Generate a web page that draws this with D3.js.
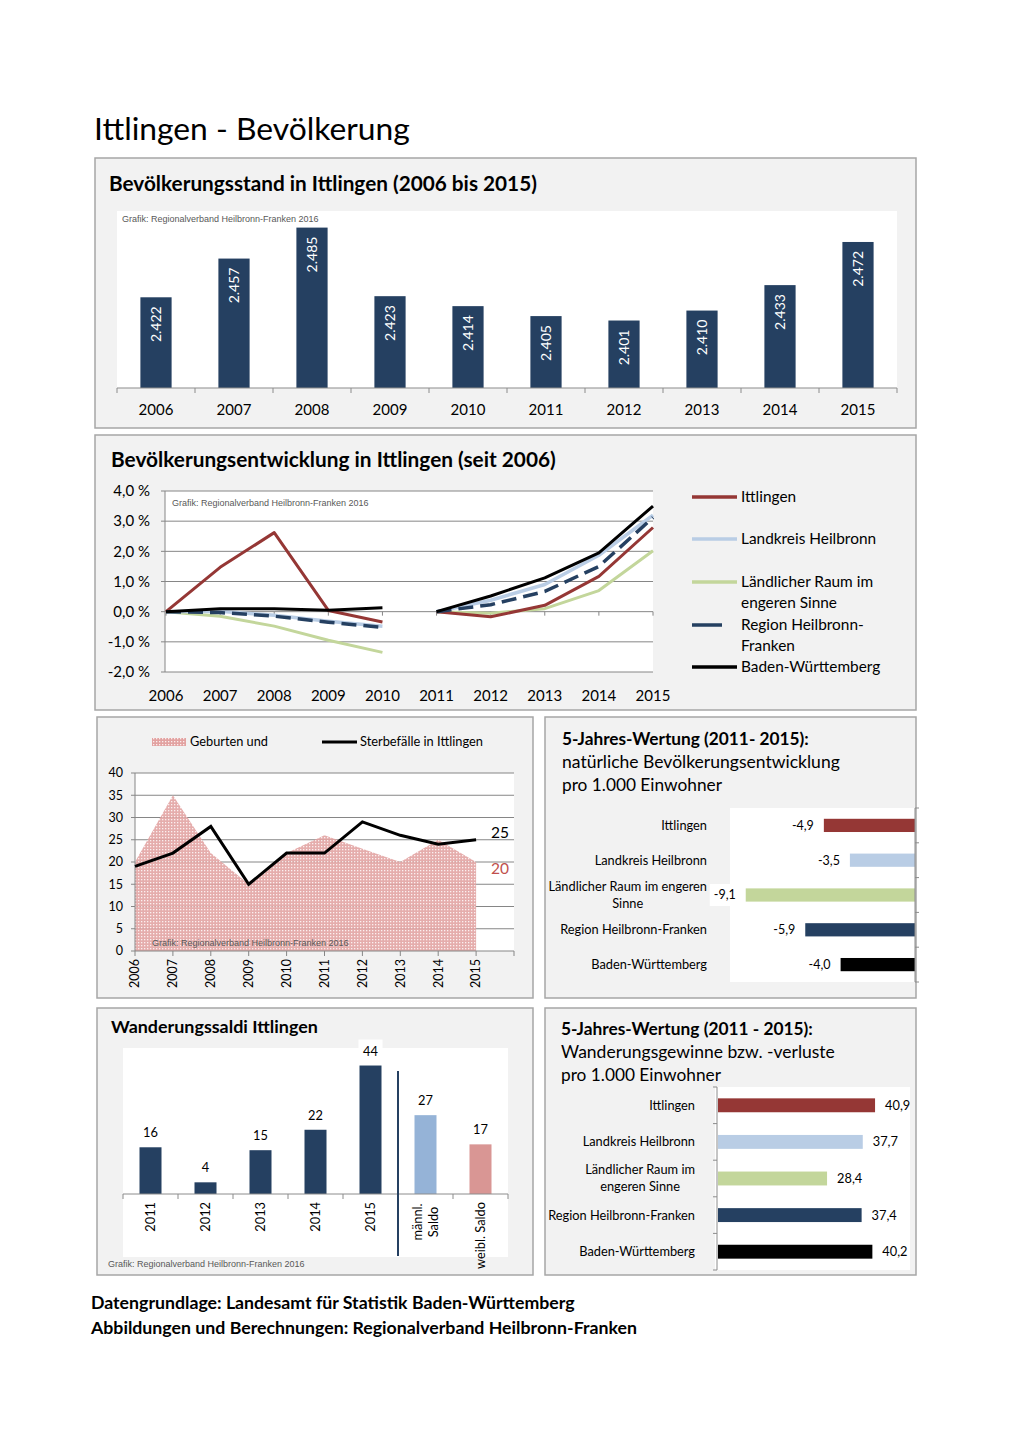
<!DOCTYPE html>
<html><head><meta charset="utf-8">
<script src="https://cdn.jsdelivr.net/npm/d3@7"></script>
<style>body{margin:0;background:#fff}</style>
</head><body>
<svg id="c" width="1020" height="1443"></svg>
<script>
// ---------- DATA ----------
const years = [2006,2007,2008,2009,2010,2011,2012,2013,2014,2015];
const popStand = [2422,2457,2485,2423,2414,2405,2401,2410,2433,2472];

const devNames = ["Ittlingen","Landkreis Heilbronn","Ländlicher Raum im engeren Sinne","Region Heilbronn-Franken","Baden-Württemberg"];
const devLegendLines = [["Ittlingen"],["Landkreis Heilbronn"],["Ländlicher Raum im","engeren Sinne"],["Region Heilbronn-","Franken"],["Baden-Württemberg"]];
const devIttlingen = [0,1.47,2.62,0.04,-0.34, 0,-0.17,0.21,1.17,2.79];
const devLandkreis = [0,0.01,-0.12,-0.32,-0.48, 0,0.38,0.90,1.87,3.20];
const devLaendlich = [0,-0.15,-0.48,-0.95,-1.35, 0,-0.05,0.10,0.70,2.02];
const devRegion    = [0,-0.03,-0.15,-0.35,-0.52, 0,0.23,0.67,1.50,3.12];
const devBW        = [0,0.10,0.10,0.05,0.13, 0,0.52,1.12,1.95,3.50];
const devTicks = [-2,-1,0,1,2,3,4];

const births = [20,35,22,15,22,26,23,20,25,20];
const deaths = [19,22,28,15,22,22,29,26,24,25];
const bdTicks = [0,5,10,15,20,25,30,35,40];

const regions = ["Ittlingen","Landkreis Heilbronn","Ländlicher Raum im engeren Sinne","Region Heilbronn-Franken","Baden-Württemberg"];
const natLabelLines = [["Ittlingen"],["Landkreis Heilbronn"],["Ländlicher Raum im engeren","Sinne"],["Region Heilbronn-Franken"],["Baden-Württemberg"]];
const natural5 = [-4.9,-3.5,-9.1,-5.9,-4.0];

const saldoCats = ["2011","2012","2013","2014","2015","männl. Saldo","weibl. Saldo"];
const saldoLabelLines = [["2011"],["2012"],["2013"],["2014"],["2015"],["männl.","Saldo"],["weibl. Saldo"]];
const saldoValues = [16,4,15,22,44,27,17];

const migLabelLines = [["Ittlingen"],["Landkreis Heilbronn"],["Ländlicher Raum im","engeren Sinne"],["Region Heilbronn-Franken"],["Baden-Württemberg"]];
const migration5 = [40.9,37.7,28.4,37.4,40.2];

// ---------- STYLE ----------
const FONT = "Lato, 'Open Sans', sans-serif";
const ARIAL = "'Liberation Sans', Arial, sans-serif";
const C = {navy:"#254061", red:"#953735", lblue:"#b9cde5", green:"#c3d69b", black:"#000",
           male:"#95b3d7", female:"#d99694", grid:"#868686", axis:"#8c8c8c", panel:"#f2f2f2", border:"#a6a6a6"};
const regionColors = [C.red, C.lblue, C.green, C.navy, C.black];

const de = d3.formatLocale({decimal:",", thousands:".", grouping:[3], currency:["","€"], minus:"-"});
const fmtInt = de.format(",");
const fmt1 = de.format(".1f");

const svg = d3.select("#c");
const defs = svg.append("defs");

function panel(x,y,w,h){
  svg.append("rect").attr("x",x).attr("y",y).attr("width",w).attr("height",h)
    .attr("fill",C.panel).attr("stroke",C.border).attr("stroke-width",1.5);
}
function text(g,x,y,s,size,o={}){
  const t = g.append("text").attr("x",x).attr("y",y).text(s)
    .attr("font-family",o.family||FONT).attr("font-size",size)
    .attr("font-weight",o.weight||"normal").attr("fill",o.fill||"#000")
    .attr("text-anchor",o.anchor||"start");
  if (o.fit) { // scale font size so the text spans the given width
    const w = t.node().getComputedTextLength();
    t.attr("font-size", size * o.fit / w);
  }
  return t;
}
function whiteRect(x0,y0,x1,y1){
  svg.append("rect").attr("x",x0).attr("y",y0).attr("width",x1-x0).attr("height",y1-y0).attr("fill","#fff");
}
function note(x,y){
  text(svg,x,y,"Grafik: Regionalverband Heilbronn-Franken 2016",9,{family:ARIAL,fill:"#595959",fit:197});
}

// ---------- MAIN TITLE ----------
text(svg,94,140,"Ittlingen - Bevölkerung",30,{fit:316});

// ---------- PANEL 1: Bevölkerungsstand ----------
panel(95,158,821,270);
text(svg,109,191,"Bevölkerungsstand in Ittlingen (2006 bis 2015)",20,{weight:"bold",fit:428});
whiteRect(117,211,897,388);
note(122,222);
{
  const x = d3.scaleBand().domain(years).range([117,897]).paddingInner(0.6).paddingOuter(0.3);
  const y = d3.scaleLinear().domain([2340,2500]).range([388,211]);
  const g = svg.append("g");
  g.selectAll("rect.bar").data(popStand).join("rect")
    .attr("x",(d,i)=>x(years[i])).attr("width",x.bandwidth())
    .attr("y",d=>y(d)).attr("height",d=>y(2340)-y(d)).attr("fill",C.navy);
  g.selectAll("text.val").data(popStand).join("text")
    .attr("transform",(d,i)=>`translate(${x(years[i])+x.bandwidth()/2},${y(d)+9}) rotate(-90)`)
    .attr("dy","0.35em").attr("text-anchor","end").attr("fill","#fff")
    .attr("font-family",FONT).attr("font-size",14).text(d=>fmtInt(d));
  const step = x.step();
  const bounds = years.map(yr=>x(yr)+x.bandwidth()/2-step/2).concat([x(years[9])+x.bandwidth()/2+step/2]);
  g.append("line").attr("x1",117).attr("x2",897).attr("y1",388).attr("y2",388).attr("stroke",C.axis).attr("stroke-width",1.2);
  g.selectAll("line.tk").data(bounds).join("line").attr("x1",d=>d).attr("x2",d=>d).attr("y1",388).attr("y2",393).attr("stroke",C.axis);
  g.selectAll("text.yr").data(years).join("text")
    .attr("x",d=>x(d)+x.bandwidth()/2).attr("y",415).attr("text-anchor","middle")
    .attr("font-family",FONT).attr("font-size",15).text(d=>d);
}

// ---------- PANEL 2: Bevölkerungsentwicklung ----------
panel(95,435,821,275);
text(svg,111,467,"Bevölkerungsentwicklung in Ittlingen (seit 2006)",20,{weight:"bold",fit:445});
whiteRect(165,491,653,672);
{
  const x = d3.scalePoint().domain(years).range([166,653]);
  const y = d3.scaleLinear().domain([-2,4]).range([672,491]);
  const g = svg.append("g");
  g.selectAll("line.grid").data(devTicks).join("line")
    .attr("x1",165).attr("x2",653).attr("y1",d=>y(d)).attr("y2",d=>y(d)).attr("stroke",C.grid).attr("stroke-width",1);
  g.append("line").attr("x1",165).attr("x2",165).attr("y1",491).attr("y2",672).attr("stroke",C.grid);
  g.selectAll("line.ytk").data(devTicks).join("line").attr("x1",161).attr("x2",165).attr("y1",d=>y(d)).attr("y2",d=>y(d)).attr("stroke",C.grid);
  g.selectAll("line.xtk").data(years).join("line").attr("x1",d=>x(d)).attr("x2",d=>x(d)).attr("y1",y(0)).attr("y2",y(0)+4).attr("stroke",C.grid);
  g.selectAll("text.yl").data(devTicks).join("text")
    .attr("x",150).attr("y",d=>y(d)).attr("dy","0.35em").attr("text-anchor","end")
    .attr("font-family",FONT).attr("font-size",15).text(d=>fmt1(d)+" %");
  g.selectAll("text.xl").data(years).join("text")
    .attr("x",d=>x(d)).attr("y",701).attr("text-anchor","middle")
    .attr("font-family",FONT).attr("font-size",15).text(d=>d);
  note(172,506);
  const series = [
    {v:devLaendlich,c:C.green,w:3,dash:null},
    {v:devLandkreis,c:C.lblue,w:3.5,dash:null},
    {v:devIttlingen,c:C.red,w:3,dash:null},
    {v:devRegion,c:C.navy,w:3.5,dash:"15,7"},
    {v:devBW,c:C.black,w:3,dash:null}
  ];
  const line = d3.line().x(d=>x(d.yr)).y(d=>y(d.v));
  series.forEach(s=>{
    [[0,5],[5,10]].forEach(([a,b])=>{
      const pts = years.slice(a,b).map((yr,i)=>({yr,v:s.v[a+i]}));
      g.append("path").attr("d",line(pts)).attr("fill","none").attr("stroke",s.c)
        .attr("stroke-width",s.w).attr("stroke-dasharray",s.dash).attr("stroke-linejoin","round");
    });
  });
  // legend
  const ly = [497,539,582,625,667];
  devLegendLines.forEach((lines,i)=>{
    g.append("line").attr("x1",692).attr("x2",i===3?722:737).attr("y1",ly[i]).attr("y2",ly[i])
      .attr("stroke",regionColors[i]).attr("stroke-width",3.5);
    lines.forEach((l,j)=>text(g,741,ly[i]+5+j*21,l,15.4));
  });
}

// ---------- PANEL 3: Geburten und Sterbefälle ----------
panel(97,717,436,281);
{
  const pat = defs.append("pattern").attr("id","dots").attr("width",3).attr("height",3).attr("patternUnits","userSpaceOnUse");
  pat.append("rect").attr("width",3).attr("height",3).attr("fill","#e2a2a1");
  pat.append("rect").attr("width",1.3).attr("height",1.3).attr("fill","#fbeeee");
  whiteRect(135,773,514,951);
  const x = d3.scaleLinear().domain([2006,2016]).range([135,514]);
  const y = d3.scaleLinear().domain([0,40]).range([951,773]);
  const g = svg.append("g");
  g.selectAll("line.grid").data(bdTicks.slice(1)).join("line")
    .attr("x1",135).attr("x2",514).attr("y1",d=>y(d)).attr("y2",d=>y(d)).attr("stroke",C.grid);
  const area = d3.area().x((d,i)=>x(years[i])).y0(y(0)).y1(d=>y(d));
  g.append("path").attr("d",area(births)).attr("fill","url(#dots)").attr("opacity",0.88);
  g.append("line").attr("x1",135).attr("x2",514).attr("y1",951).attr("y2",951).attr("stroke",C.grid);
  g.append("line").attr("x1",135).attr("x2",135).attr("y1",773).attr("y2",951).attr("stroke",C.grid);
  g.selectAll("line.ytk").data(bdTicks).join("line").attr("x1",131).attr("x2",135).attr("y1",d=>y(d)).attr("y2",d=>y(d)).attr("stroke",C.grid);
  g.selectAll("line.xtk").data(years.concat([2016])).join("line").attr("x1",d=>x(d)).attr("x2",d=>x(d)).attr("y1",951).attr("y2",956).attr("stroke",C.grid);
  g.selectAll("text.yl").data(bdTicks).join("text").attr("x",123).attr("y",d=>y(d)).attr("dy","0.35em")
    .attr("text-anchor","end").attr("font-family",FONT).attr("font-size",12.5).text(d=>d);
  g.selectAll("text.xl").data(years).join("text")
    .attr("transform",d=>`translate(${x(d)},959) rotate(-90)`).attr("dy","0.35em").attr("text-anchor","end")
    .attr("font-family",FONT).attr("font-size",12.5).text(d=>d);
  note(152,946);
  const line = d3.line().x((d,i)=>x(years[i])).y(d=>y(d));
  g.append("path").attr("d",line(deaths)).attr("fill","none").attr("stroke","#000").attr("stroke-width",3).attr("stroke-linejoin","miter");
  text(g,491,838,String(deaths[9]),15.5);
  text(g,491,874,String(births[9]),15.5,{fill:"#c0504d"});
  // legend
  g.append("rect").attr("x",152).attr("y",738).attr("width",34).attr("height",8).attr("fill","url(#dots)");
  text(g,190,746,"Geburten und",12.5,{fit:78});
  g.append("line").attr("x1",322).attr("x2",357).attr("y1",742).attr("y2",742).attr("stroke","#000").attr("stroke-width",3);
  text(g,360,746,"Sterbefälle in Ittlingen",12.5,{fit:123});
}

// ---------- PANEL 4: natürliche Bevölkerungsentwicklung ----------
panel(545,717,371,281);
text(svg,562,745,"5-Jahres-Wertung (2011- 2015):",17,{weight:"bold",fit:247});
text(svg,562,768,"natürliche Bevölkerungsentwicklung",17,{fit:278});
text(svg,562,791,"pro 1.000 Einwohner",17,{fit:160});
whiteRect(730,808,915,982);
{
  const x = d3.scaleLinear().domain([-10,0]).range([729,915]);
  const y = d3.scaleBand().domain(regions).range([808,982]).paddingInner(0.62).paddingOuter(0.31);
  const g = svg.append("g");
  g.selectAll("rect.bar").data(natural5).join("rect")
    .attr("x",d=>x(d)).attr("width",d=>x(0)-x(d)).attr("y",(d,i)=>y(regions[i])).attr("height",y.bandwidth())
    .attr("fill",(d,i)=>regionColors[i]);
  const step = y.step();
  const bounds = regions.map(r=>y(r)+y.bandwidth()/2-step/2).concat([y(regions[4])+y.bandwidth()/2+step/2]);
  g.append("line").attr("x1",915).attr("x2",915).attr("y1",808).attr("y2",982).attr("stroke",C.axis);
  g.selectAll("line.tk").data(bounds).join("line").attr("x1",915).attr("x2",919).attr("y1",d=>d).attr("y2",d=>d).attr("stroke",C.axis);
  natural5.forEach((d,i)=>{
    const cy = y(regions[i])+y.bandwidth()/2;
    const t = text(g,x(d)-10,cy,fmt1(d),12.5,{anchor:"end"}).attr("dy","0.35em");
    if (x(d)-10 < 745) {
      const w = t.node().getComputedTextLength();
      g.insert("rect","text").attr("x",x(d)-10-w-4).attr("y",cy-11).attr("width",w+8).attr("height",22).attr("fill","#fff");
    }
    const lines = natLabelLines[i];
    const n = lines.length;
    const tt = lines.map((l,j)=>text(g,707,cy+(j-(n-1)/2)*17,l,12.8,{anchor:"middle"}).attr("dy","0.35em"));
    const mw = d3.max(tt,t=>t.node().getComputedTextLength());
    tt.forEach(t=>t.attr("x",707-mw/2));
  });
}

// ---------- PANEL 5: Wanderungssaldi ----------
panel(97,1008,436,267);
text(svg,111,1033,"Wanderungssaldi Ittlingen",17,{weight:"bold",fit:207});
whiteRect(123,1048,508,1257);
{
  const x = d3.scaleBand().domain(saldoCats).range([123,508]).paddingInner(0.6).paddingOuter(0.3);
  const y = d3.scaleLinear().domain([0,50]).range([1194,1048]);
  const g = svg.append("g");
  const cols = saldoCats.map((c,i)=> i<5 ? C.navy : (i===5 ? C.male : C.female));
  g.selectAll("rect.bar").data(saldoValues).join("rect")
    .attr("x",(d,i)=>x(saldoCats[i])).attr("width",x.bandwidth())
    .attr("y",d=>y(d)).attr("height",d=>y(0)-y(d)).attr("fill",(d,i)=>cols[i]);
  const step = x.step();
  const bounds = saldoCats.map(c=>x(c)+x.bandwidth()/2-step/2).concat([508]);
  g.append("line").attr("x1",123).attr("x2",508).attr("y1",1194).attr("y2",1194).attr("stroke",C.axis);
  g.selectAll("line.tk").data(bounds).join("line").attr("x1",d=>d).attr("x2",d=>d).attr("y1",1194).attr("y2",1199).attr("stroke",C.axis);
  saldoValues.forEach((d,i)=>{
    const cx = x(saldoCats[i])+x.bandwidth()/2;
    if (i===4) g.append("rect").attr("x",cx-12).attr("y",y(d)-26).attr("width",24).attr("height",22).attr("fill","#fff");
    text(g,cx,y(d)-10,String(d),12.8,{anchor:"middle"});
    const lines = saldoLabelLines[i];
    const n = lines.length;
    lines.forEach((l,j)=>{
      const t = g.append("text").attr("font-family",FONT).attr("font-size",12.8).attr("dy","0.35em").text(l);
      if (n>1) t.attr("text-anchor","middle").attr("transform",`translate(${cx+(j-(n-1)/2)*16},1222) rotate(-90)`);
      else t.attr("text-anchor","end").attr("transform",`translate(${cx},1202) rotate(-90)`);
    });
  });
  g.append("line").attr("x1",398).attr("x2",398).attr("y1",1071).attr("y2",1256).attr("stroke",C.navy).attr("stroke-width",2);
}
note(108,1267);

// ---------- PANEL 6: Wanderungsgewinne ----------
panel(545,1008,371,267);
text(svg,561,1035,"5-Jahres-Wertung (2011 - 2015):",17,{weight:"bold",fit:252});
text(svg,561,1058,"Wanderungsgewinne bzw. -verluste",17,{fit:274});
text(svg,561,1081,"pro 1.000 Einwohner",17,{fit:160});
whiteRect(715,1087,910,1270);
{
  const x = d3.scaleLinear().domain([0,50]).range([718,910]);
  const y = d3.scaleBand().domain(regions).range([1087,1270]).paddingInner(0.62).paddingOuter(0.31);
  const g = svg.append("g");
  g.selectAll("rect.bar").data(migration5).join("rect")
    .attr("x",x(0)).attr("width",d=>x(d)-x(0)).attr("y",(d,i)=>y(regions[i])).attr("height",y.bandwidth())
    .attr("fill",(d,i)=>regionColors[i]);
  const step = y.step();
  const bounds = regions.map(r=>y(r)+y.bandwidth()/2-step/2).concat([1270]);
  g.append("line").attr("x1",717).attr("x2",717).attr("y1",1087).attr("y2",1270).attr("stroke",C.axis);
  g.selectAll("line.tk").data(bounds).join("line").attr("x1",713).attr("x2",717).attr("y1",d=>d).attr("y2",d=>d).attr("stroke",C.axis);
  migration5.forEach((d,i)=>{
    const cy = y(regions[i])+y.bandwidth()/2;
    text(g,x(d)+10,cy,fmt1(d),12.8).attr("dy","0.35em");
    const lines = migLabelLines[i];
    const n = lines.length;
    const tt = lines.map((l,j)=>text(g,695,cy+(j-(n-1)/2)*17,l,12.8,{anchor:"middle"}).attr("dy","0.35em"));
    const mw = d3.max(tt,t=>t.node().getComputedTextLength());
    tt.forEach(t=>t.attr("x",695-mw/2));
  });
}

// ---------- FOOTER ----------
text(svg,91,1309,"Datengrundlage: Landesamt für Statistik Baden-Württemberg",16,{weight:"bold",fit:484});
text(svg,91,1334,"Abbildungen und Berechnungen: Regionalverband Heilbronn-Franken",16,{weight:"bold",fit:546});
</script>
</body></html>
